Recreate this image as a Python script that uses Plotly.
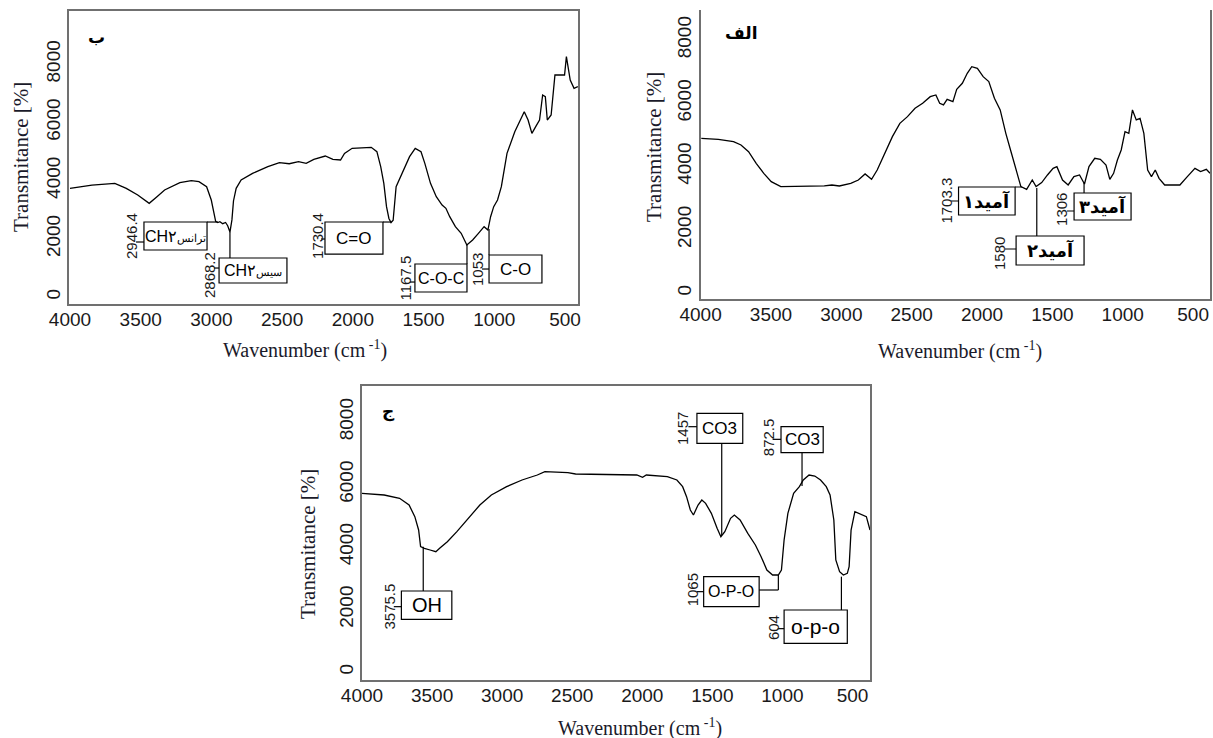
import plotly.graph_objects as go

W, H = 1213, 738

# ---------------- data ----------------
xticks = [4000, 3500, 3000, 2500, 2000, 1500, 1000, 500]
yticks = [0, 2000, 4000, 6000, 8000]

# panel "ب" (top-left)
wn_b = [4000, 3845, 3683, 3602, 3521, 3440, 3385, 3331, 3223, 3142, 3088, 3034, 3001, 2985,
        2970, 2955, 2940, 2920, 2900, 2885, 2869, 2855, 2844, 2825, 2790, 2709, 2601, 2519,
        2450, 2384, 2330, 2276, 2195, 2141, 2087, 2059, 2005, 1870, 1830, 1803, 1781, 1762,
        1745, 1730, 1715, 1694, 1654, 1599, 1559, 1518, 1491, 1451, 1410, 1369, 1342, 1315,
        1275, 1234, 1194, 1153, 1112, 1072, 1045, 1026, 1004, 977, 950, 910, 855, 788, 761,
        734, 707, 680, 658, 639, 625, 598, 571, 503, 490, 463, 436, 409]
t_b = [3734, 3848, 3906, 3734, 3505, 3218, 3447, 3677, 3929, 3997, 3963, 3791, 3333, 2900,
       2600, 2560, 2590, 2520, 2560, 2450, 2233, 2650, 3300, 3734, 4020, 4249, 4478, 4616,
       4580, 4650, 4593, 4731, 4845, 4731, 4708, 4937, 5109, 5143, 4994, 4478, 3906, 3104,
       2700, 2560, 2640, 3791, 4249, 4822, 5109, 4994, 4593, 3906, 3447, 3161, 3047, 2760,
       2417, 2188, 1787, 1958, 2188, 2417, 2302, 2760, 3104, 3333, 3791, 4937, 5681, 6369, 6082,
       5624, 5853, 6082, 6941, 6884, 6082, 6254, 7629, 7629, 8259, 7457, 7170, 7228]
peaks_b = ["2946.4", "2868.2", "1730.4", "1167.5", "1053"]
groups_b = ["CH۲ترانس", "CH۲سیس", "C=O", "C-O-C", "C-O"]

# panel "الف" (top-right)
wn_a = [3995, 3874, 3766, 3713, 3659, 3605, 3551, 3498, 3430, 3363, 3121, 3067, 3014, 2933,
        2879, 2831, 2785, 2745, 2691, 2637, 2584, 2530, 2476, 2422, 2368, 2328, 2301, 2274,
        2248, 2207, 2180, 2140, 2105, 2073, 2033, 1992, 1952, 1912, 1871, 1831, 1791, 1751,
        1724, 1683, 1643, 1616, 1576, 1535, 1495, 1468, 1428, 1388, 1347, 1307, 1272, 1240,
        1199, 1159, 1119, 1092, 1065, 1038, 1011, 984, 957, 931, 904, 877, 850, 823, 796, 769,
        742, 702, 594, 541, 487, 447, 406, 380]
t_a = [4891, 4859, 4786, 4680, 4469, 4100, 3784, 3521, 3363, 3363, 3384, 3415, 3384, 3468,
       3573, 3763, 3594, 3890, 4417, 4944, 5365, 5576, 5840, 5998, 6208, 6261, 5998, 5945,
       6124, 6050, 6440, 6630, 6946, 7157, 7104, 6841, 6683, 6156, 5787, 5049, 4417, 3784,
       3363, 3278, 3573, 3363, 3489, 3732, 3942, 3995, 3573, 3415, 3679, 3732, 3447, 3995,
       4259, 4227, 4048, 3594, 3784, 4206, 4522, 5102, 5049, 5787, 5471, 5523, 5049, 3890,
       3679, 3890, 3626, 3415, 3415, 3679, 3942, 3837, 3911, 3784]
peaks_a = ["1703.3", "1580", "1306"]
groups_a = ["آمید۱", "آمید۲", "آمید۳"]

# panel "ج" (bottom)
wn_j = [4000, 3842, 3732, 3664, 3623, 3596, 3582, 3555, 3514, 3473, 3446, 3391, 3323, 3241,
        3159, 3077, 2968, 2858, 2749, 2695, 2531, 2476, 2258, 2039, 1998, 1971, 1821, 1753,
        1712, 1684, 1657, 1635, 1602, 1575, 1548, 1507, 1466, 1439, 1411, 1370, 1343, 1302,
        1247, 1193, 1152, 1111, 1070, 1029, 1007, 988, 961, 920, 879, 851, 810, 769, 728, 687,
        660, 633, 619, 592, 565, 537, 524, 510, 483, 455, 428, 401, 375]
t_j = [5717, 5664, 5557, 5344, 4971, 4544, 4011, 3957, 3904, 3851, 3957, 4171, 4491, 4917,
       5344, 5664, 5931, 6144, 6304, 6411, 6379, 6336, 6325, 6304, 6229, 6304, 6251, 6144,
       5931, 5611, 5184, 5024, 5344, 5504, 5397, 5077, 4597, 4331, 4491, 4917, 5024, 4864,
       4437, 4064, 3691, 3264, 3104, 3104, 3264, 4224, 5077, 5717, 5931, 6144, 6304, 6272,
       6144, 5931, 5664, 4864, 3584, 3211, 3104, 3157, 3371, 4544, 5131, 5077, 5024, 4971, 4544]
peaks_j = ["3575.5", "1457", "872.5", "1065", "604"]
groups_j = ["OH", "CO3", "CO3", "O-P-O", "o-p-o"]

# ---------------- layout of the peak callouts (data units) ----------------
lay_b = [
    dict(box=(3477, 3031, 1615, 2577), lab=(3569, 2096), tick=(3533, 3477, 1890),
         conn=[(3031, 2577), (2955, 2577)], fs=16),
    dict(box=(2946, 2466, 481, 1340), lab=(3017, 756), tick=(2982, 2946, 996),
         conn=[(2869, 2233), (2869, 1340)], fs=16),
    dict(box=(2197, 1787, 1477, 2577), lab=(2254, 2096), tick=(2225, 2197, 1993),
         conn=[(1787, 2577), (1728, 2577)], fs=17),
    dict(box=(1561, 1193, 172, 1134), lab=(1628, 653), tick=(1596, 1561, 515),
         conn=[(1193, 1787), (1193, 1134)], fs=16),
    dict(box=(1037, 663, 481, 1443), lab=(1122, 928), tick=(1087, 1037, 962),
         conn=[(1037, 2336), (1037, 1443)], fs=17),
]
lay_a = [
    dict(box=(2167, 1765, 2466, 3352), lab=(2252, 2909), tick=(2220, 2167, 2909),
         conn=[(1765, 3352), (1716, 3352)], fs=18),
    dict(box=(1758, 1275, 885, 1802), lab=(1872, 1233), tick=(1837, 1758, 1391),
         conn=[(1611, 3320), (1611, 1802)], fs=18),
    dict(box=(1346, 941, 2308, 3162), lab=(1432, 2656), tick=(1396, 1346, 2593),
         conn=[(1275, 3478), (1275, 3162)], fs=18),
]
lay_j = [
    dict(box=(3719, 3359, 1686, 2592), lab=(3801, 2091), tick=(3773, 3719, 2091),
         conn=[(3563, 4011), (3563, 2592)], fs=20),
    dict(box=(1610, 1283, 7317, 8277), lab=(1712, 7797), tick=(1671, 1610, 7850),
         conn=[(1433, 7317), (1433, 4384)], fs=17),
    dict(box=(1010, 709, 7019, 7851), lab=(1097, 7509), tick=(1070, 1010, 7445),
         conn=[(860, 7019), (860, 5952)], fs=17),
    dict(box=(1562, 1166, 2091, 3051), lab=(1643, 2624), tick=(1610, 1562, 2571),
         conn=[(1166, 2624), (1029, 2624), (1029, 3104)], fs=16),
    dict(box=(988, 537, 917, 1984), lab=(1062, 1429), tick=(1034, 988, 1387),
         conn=[(579, 3051), (579, 1984)], fs=21),
]

# ---------------- figure ----------------
fig = go.Figure()
line_style = dict(color="black", width=1.3)
fig.add_trace(go.Scatter(x=wn_b, y=t_b, mode="lines", line=line_style, xaxis="x", yaxis="y",
                         hoverinfo="skip"))
fig.add_trace(go.Scatter(x=wn_a, y=t_a, mode="lines", line=line_style, xaxis="x2", yaxis="y2",
                         hoverinfo="skip"))
fig.add_trace(go.Scatter(x=wn_j, y=t_j, mode="lines", line=line_style, xaxis="x3", yaxis="y3",
                         hoverinfo="skip"))

SANS = "Liberation Sans, Arial, sans-serif"
SERIF = "Liberation Serif, Times New Roman, serif"
FA = "DejaVu Sans, Noto Sans, sans-serif"

tickfont = dict(family=SANS, size=19, color="#1a1a1a")
base = dict(showgrid=False, zeroline=False, showline=True, linecolor="#707070", linewidth=1.5,
            ticks="", tickfont=tickfont, automargin=False)


def xa(dom, rng, anchor, mirror):
    return dict(base, domain=dom, range=rng, anchor=anchor, mirror=mirror,
                tickvals=xticks, ticktext=[str(v) for v in xticks], ticklabelstandoff=-3)


def ya(dom, rng, anchor, mirror):
    return dict(base, domain=dom, range=rng, anchor=anchor, mirror=mirror,
                tickvals=yticks, ticktext=[str(v) for v in yticks], tickangle=-90)


fig.update_layout(
    width=W, height=H, margin=dict(l=0, r=0, t=0, b=0, autoexpand=False),
    paper_bgcolor="white", plot_bgcolor="white", showlegend=False,
    xaxis=xa([69 / W, 578 / W], [4007, 408], "y", True),
    yaxis=ya([1 - 304 / H, 1 - 11 / H], [-240, 9828], "x", True),
    xaxis2=xa([700.6 / W, 1210 / W], [4000, 380], "y2", False),
    yaxis2=ya([1 - 299 / H, 1 - 10 / H], [-190, 8948], "x2", True),
    xaxis3=xa([362 / W, 870 / W], [4000, 375], "y3", True),
    yaxis3=ya([1 - 680 / H, 1 - 386 / H], [-256, 9152], "x3", True),
)

shapes = []
annots = []


def fmt_group(g):
    if g.startswith("CH۲"):
        return "CH۲<span style='font-size:11px'>" + g[3:] + "</span>"
    if g.startswith("آمید"):
        return "<b>" + g + "</b>"
    return g


def callouts(lay, peaks, groups, xr, yr, persian=False):
    lw = dict(color="black", width=1.2)
    for L, p, g in zip(lay, peaks, groups):
        x0, x1, y0, y1 = L["box"]
        shapes.append(dict(type="rect", xref=xr, yref=yr, x0=x0, x1=x1, y0=y0, y1=y1, line=lw))
        annots.append(dict(xref=xr, yref=yr, x=(x0 + x1) / 2, y=(y0 + y1) / 2,
                           xanchor="center", yanchor="middle",
                           text=fmt_group(g), showarrow=False,
                           font=dict(family=FA if persian else SANS, size=L["fs"], color="black")))
        lx, ly = L["lab"]
        annots.append(dict(xref=xr, yref=yr, x=lx, y=ly, text=p, showarrow=False, textangle=-90,
                           xanchor="center", yanchor="middle",
                           font=dict(family=SANS, size=15, color="#1a1a1a")))
        tx0, tx1, ty = L["tick"]
        shapes.append(dict(type="line", xref=xr, yref=yr, x0=tx0, x1=tx1, y0=ty, y1=ty, line=lw))
        pts = L["conn"]
        for (ax0, ay0), (ax1, ay1) in zip(pts[:-1], pts[1:]):
            shapes.append(dict(type="line", xref=xr, yref=yr, x0=ax0, x1=ax1, y0=ay0, y1=ay1,
                               line=lw))


callouts(lay_b, peaks_b, groups_b, "x", "y")
callouts(lay_a, peaks_a, groups_a, "x2", "y2", persian=True)
callouts(lay_j, peaks_j, groups_j, "x3", "y3")

# panel letters
for txt, xr, yr, x, y in [("ب", "x", "y", 3816, 8933), ("الف", "x2", "y2", 3713, 8221),
                          ("ج", "x3", "y3", 3814, 8331)]:
    annots.append(dict(xref=xr, yref=yr, x=x, y=y, text="<b>" + txt + "</b>", showarrow=False,
                       xanchor="center", yanchor="middle",
                       font=dict(family=FA, size=17, color="black")))

# axis titles
for ox, oy in [(305, 349), (960, 350), (640, 727)]:
    annots.append(dict(xref="paper", yref="paper", x=ox / W, y=1 - oy / H,
                       xanchor="center", yanchor="middle",
                       text="Wavenumber (cm<sup> -1</sup>)", showarrow=False,
                       font=dict(family=SERIF, size=20, color="#1a1a2a")))
for ox, oy in [(21, 157), (654, 147), (308, 544)]:
    annots.append(dict(xref="paper", yref="paper", x=ox / W, y=1 - oy / H,
                       xanchor="center", yanchor="middle",
                       text="Transmitance [%]", showarrow=False, textangle=-90,
                       font=dict(family=SERIF, size=21, color="#1a1a2a")))

fig.update_layout(shapes=shapes, annotations=annots)
fig.write_html("out.html", config={"displayModeBar": False},
               post_script="document.body.style.margin='0';document.body.style.overflow='hidden';")
